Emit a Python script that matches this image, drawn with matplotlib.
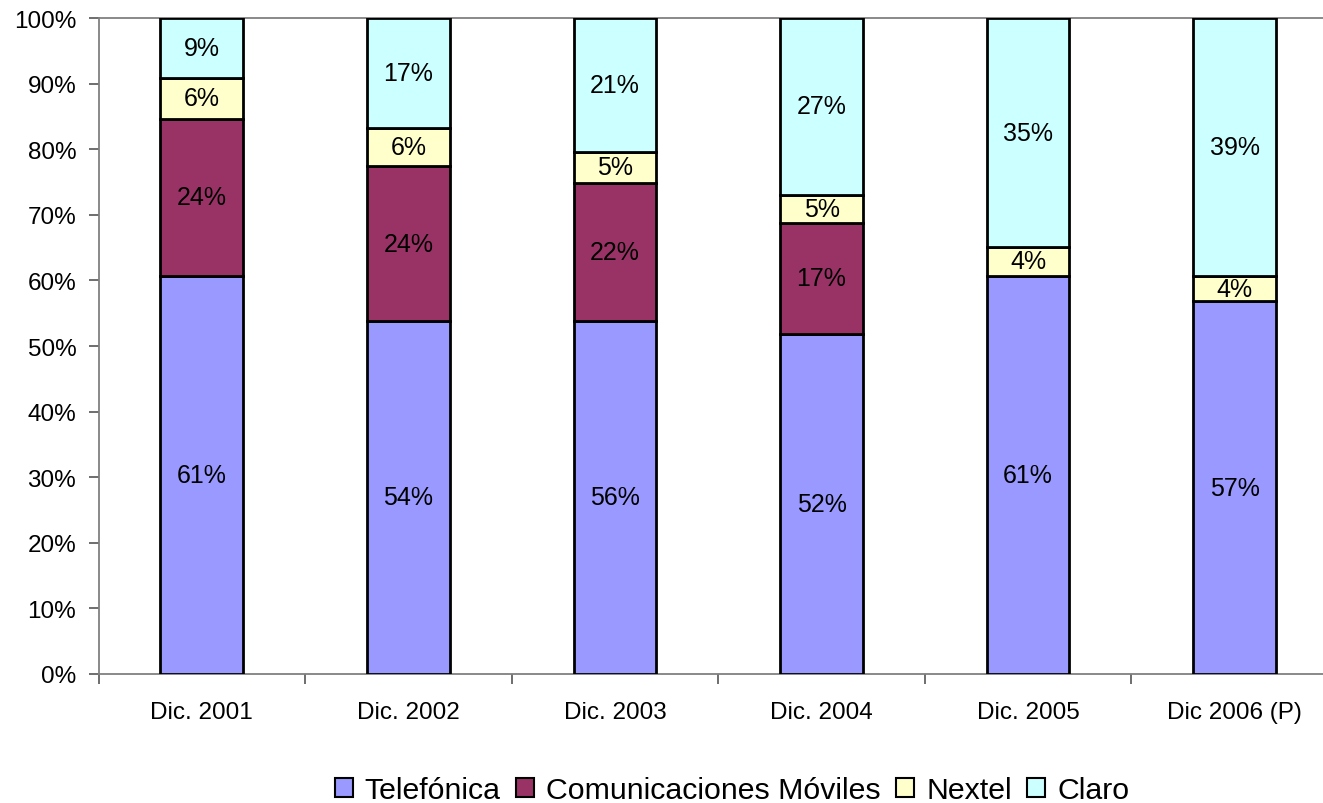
import matplotlib
matplotlib.use("Agg")
import matplotlib.pyplot as plt
import numpy as np

plt.rcParams['font.family'] = ['Liberation Sans', 'DejaVu Sans']

categories = ["Dic. 2001", "Dic. 2002", "Dic. 2003", "Dic. 2004", "Dic. 2005", "Dic 2006 (P)"]
series_names = ["Telefónica", "Comunicaciones Móviles", "Nextel", "Claro"]
telefonica = [60.7, 53.8, 53.8, 51.9, 60.7, 56.8]
comunicaciones = [24.0, 23.6, 21.1, 16.9, 0.0, 0.0]
nextel = [6.2, 5.8, 4.7, 4.3, 4.4, 3.9]
claro = [9.1, 16.8, 20.4, 26.9, 34.9, 39.3]
labels_telefonica = ["61%", "54%", "56%", "52%", "61%", "57%"]
labels_comunicaciones = ["24%", "24%", "22%", "17%", "", ""]
labels_nextel = ["6%", "6%", "5%", "5%", "4%", "4%"]
labels_claro = ["9%", "17%", "21%", "27%", "35%", "39%"]
yticks = [0, 10, 20, 30, 40, 50, 60, 70, 80, 90, 100]

colors = ["#9999FF", "#993366", "#FFFFCC", "#CCFFFF"]

W, H = 1323, 804
fig = plt.figure(figsize=(W / 100, H / 100), dpi=100)
left_px, right_px, top_px, bottom_px = 98.5, 1338.0, 19.3, 674.7
ax = fig.add_axes([left_px / W, 1 - bottom_px / H, (right_px - left_px) / W, (bottom_px - top_px) / H])

x = np.arange(len(categories))
series = [telefonica, comunicaciones, nextel, claro]
labels = [labels_telefonica, labels_comunicaciones, labels_nextel, labels_claro]
bottom = np.zeros(len(categories))
for name, vals, col, labs in zip(series_names, series, colors, labels):
    vals = np.array(vals)
    ax.bar(x, vals, width=0.40, bottom=bottom, color=col, edgecolor="black",
           linewidth=2, label=name, zorder=3)
    for xi, b, v, t in zip(x, bottom, vals, labs):
        if v > 0 and t:
            ax.text(xi, b + v / 2, t, ha="center", va="center", fontsize=18,
                    color="black", zorder=4)
    bottom = bottom + vals

ax.set_xlim(-0.5, len(categories) - 0.5)
ax.set_ylim(0, 100)
ax.set_yticks(yticks)
ax.set_yticklabels([f"{t}%" for t in yticks])

ax.set_xticks(np.arange(-0.5, len(categories) + 0.5, 1.0))
ax.set_xticklabels([])
ax.set_xticks(x, minor=True)
ax.set_xticklabels(categories, minor=True)
ax.tick_params(axis="x", which="major", length=7, width=1.2, color="#555555", direction="out")
ax.tick_params(axis="x", which="minor", length=0, pad=20, labelsize=17.5)
ax.tick_params(axis="y", length=7, width=1.2, color="#555555", direction="out", pad=9, labelsize=17.5)

for s in ["left", "bottom", "top", "right"]:
    ax.spines[s].set_color("#808080")
    ax.spines[s].set_linewidth(1.3)

handles, lbls = ax.get_legend_handles_labels()
leg = fig.legend(handles, lbls, loc="center", bbox_to_anchor=(732 / W, 1 - 791 / H),
                 ncol=4, frameon=False, fontsize=21.8, handlelength=0.6, handleheight=0.6,
                 handletextpad=0.4, columnspacing=0.5, borderaxespad=0)
for h in leg.legend_handles:
    h.set_linewidth(1.5)

fig.savefig("out.png", dpi=100)
